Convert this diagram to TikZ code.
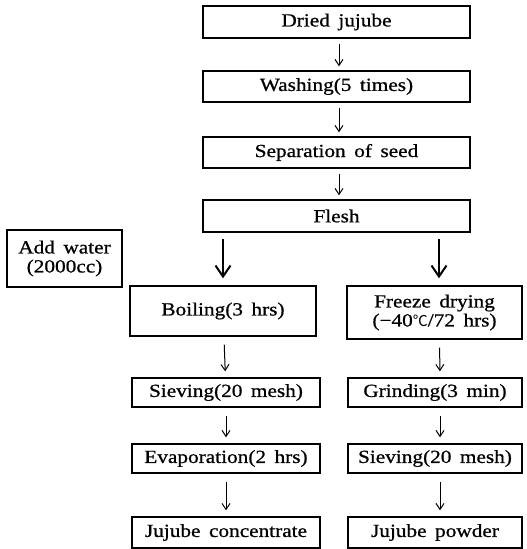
\documentclass[tikz,border=0pt]{standalone}
\usepackage{fontspec}
\setmainfont{Liberation Serif}[WordSpace=1.6,FakeStretch=1.15,FakeBold=0.8]
\newfontfamily\cjk{Noto Sans CJK SC}
\usetikzlibrary{arrows.meta}
\begin{document}
\begin{tikzpicture}[x=1pt,y=-1pt,
  box/.style={draw,line width=1.4pt,inner sep=0pt,align=center,font=\fontsize{18.5}{19}\selectfont},
  thin/.style={-{Straight Barb[length=6pt,width=8pt]},line width=1pt,shorten <=5pt,shorten >=4pt},
  big/.style={-{Straight Barb[length=11pt,width=15pt]},line width=2pt,shorten <=6pt,shorten >=7pt}]
\useasboundingbox (0,0) rectangle (527,549);
\node[box,minimum width=267pt,minimum height=32pt] (dried) at (336.5,22) {Dried jujube};
\node[box,minimum width=267pt,minimum height=31pt] (wash) at (336.5,86.5) {Washing(5 times)};
\node[box,minimum width=267pt,minimum height=31pt] (sep) at (336.5,152.5) {Separation of seed};
\node[box,minimum width=267pt,minimum height=32pt] (flesh) at (336.5,216) {Flesh};
\node[box,minimum width=115pt,minimum height=57pt] (add) at (64.5,258.5) {Add water\\(2000cc)};
\node[box,minimum width=186pt,minimum height=50pt] (boil) at (223,311) {Boiling(3 hrs)};
\node[box,minimum width=175pt,minimum height=53pt] (freeze) at (434.5,312.5) {Freeze drying\\(−40{\cjk\fontsize{15}{15}\selectfont ℃}/72 hrs)};
\node[box,minimum width=188pt,minimum height=29pt] (sieve1) at (226,392.5) {Sieving(20 mesh)};
\node[box,minimum width=174pt,minimum height=29pt] (grind) at (435,392.5) {Grinding(3 min)};
\node[box,minimum width=188pt,minimum height=29pt] (evap) at (226,458.5) {Evaporation(2 hrs)};
\node[box,minimum width=174pt,minimum height=29pt] (sieve2) at (435,458.5) {Sieving(20 mesh)};
\node[box,minimum width=188pt,minimum height=31pt] (conc) at (226,532.5) {Jujube concentrate};
\node[box,minimum width=174pt,minimum height=31pt] (powder) at (435,532.5) {Jujube powder};
\draw[thin] ([xshift=2.5pt]dried.south) -- ([xshift=2.5pt]wash.north);
\draw[thin] ([xshift=2.5pt]wash.south) -- ([xshift=2.5pt]sep.north);
\draw[thin] ([xshift=2.5pt]sep.south) -- ([xshift=2.5pt]flesh.north);
\draw[big] (flesh.south -| boil.north) -- (boil.north);
\draw[big] ([xshift=4.5pt]flesh.south -| freeze.north) -- ([xshift=4.5pt]freeze.north);
\draw[thin,shorten <=8pt,shorten >=6pt] (boil) -- (sieve1);
\draw[thin,shorten <=8pt,shorten >=6pt] (sieve1) -- (evap);
\draw[thin,shorten <=8pt,shorten >=6pt] (evap) -- (conc);
\draw[thin,shorten <=8pt,shorten >=6pt] ([xshift=5pt]freeze.south) -- ([xshift=5pt]grind.north);
\draw[thin,shorten <=8pt,shorten >=6pt] ([xshift=5pt]grind.south) -- ([xshift=5pt]sieve2.north);
\draw[thin,shorten <=8pt,shorten >=6pt] ([xshift=5pt]sieve2.south) -- ([xshift=5pt]powder.north);
\end{tikzpicture}
\end{document}
